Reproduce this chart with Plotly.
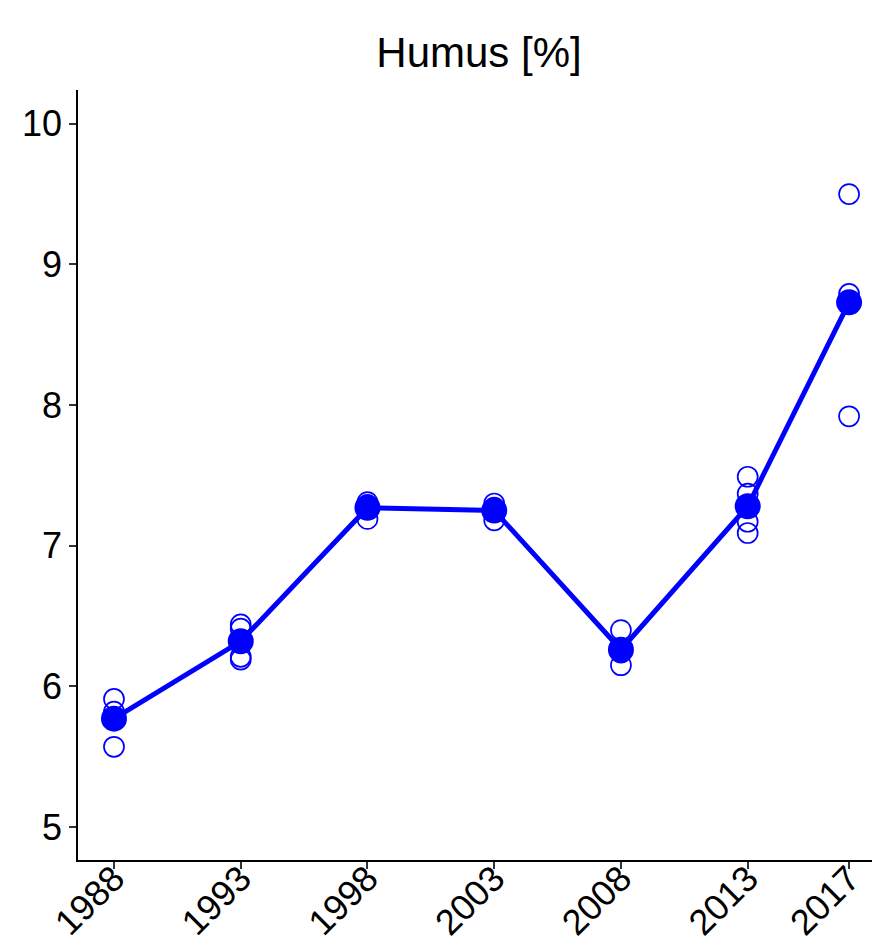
import plotly.graph_objects as go

years = [1988, 1993, 1998, 2003, 2008, 2013, 2017]
replicates = {
    1988: [5.91, 5.82, 5.57],
    1993: [6.44, 6.41, 6.21, 6.19],
    1998: [7.31, 7.29, 7.19],
    2003: [7.30, 7.27, 7.18],
    2008: [6.40, 6.24, 6.15],
    2013: [7.49, 7.37, 7.17, 7.09],
    2017: [9.50, 8.79, 8.72, 7.92],
}
means = [5.77, 6.32, 7.27, 7.25, 6.26, 7.28, 8.73]

rep_x = [y for y in years for _ in replicates[y]]
rep_y = [v for y in years for v in replicates[y]]

blue = "#0000FF"
fig = go.Figure()
fig.add_trace(go.Scatter(
    x=rep_x, y=rep_y, mode="markers",
    marker=dict(symbol="circle-open", size=20, color=blue, line=dict(width=1.7, color=blue)),
    showlegend=False, cliponaxis=False,
))
fig.add_trace(go.Scatter(
    x=years, y=means, mode="lines+markers",
    line=dict(color=blue, width=5),
    marker=dict(symbol="circle", size=26, color=blue),
    showlegend=False, cliponaxis=False,
))

fig.update_layout(
    width=880, height=940,
    paper_bgcolor="white", plot_bgcolor="white",
    margin=dict(l=70, r=8, t=82, b=88, autoexpand=False),
    font=dict(family="Liberation Sans, Arial, sans-serif", color="black"),
    title=dict(text="Humus [%]", x=0.5, xref="paper", xanchor="center",
               y=0.9532, yref="container", yanchor="middle",
               font=dict(size=42, color="black")),
    xaxis=dict(
        range=[1986.58, 2018.22], tickmode="array", tickvals=years,
        ticktext=[str(y) for y in years], tickangle=-45, automargin=False,
        ticklabelstandoff=-26,
        showgrid=False, zeroline=False, showline=True, linecolor="black", linewidth=1.6,
        ticks="outside", ticklen=7, tickwidth=1.5, tickcolor="#333333",
        tickfont=dict(size=36, color="black"),
    ),
    yaxis=dict(
        range=[4.765, 10.24], tickmode="array", tickvals=[5, 6, 7, 8, 9, 10], automargin=False,
        showgrid=False, zeroline=False, showline=True, linecolor="black", linewidth=1.6,
        ticks="outside", ticklen=7, tickwidth=1.5, tickcolor="#333333",
        tickfont=dict(size=36, color="black"),
    ),
)

fig.write_html("out.html")
